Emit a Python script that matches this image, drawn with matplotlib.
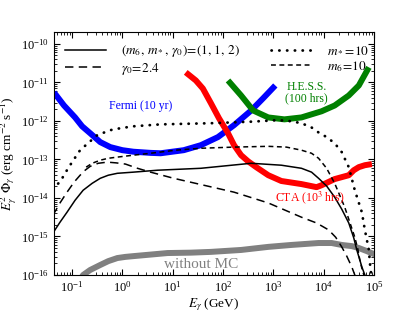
import numpy as np
import matplotlib.pyplot as plt
from matplotlib.ticker import NullFormatter

plt.rcParams['font.family'] = 'serif'
plt.rcParams['font.serif'] = ['Liberation Serif', 'DejaVu Serif']
plt.rcParams['mathtext.fontset'] = 'stix'

# log10(E/GeV) and log10(E^2 Phi / erg cm^-2 s^-1)
fermi_x = [-1.36, -1.16, -0.94, -0.8, -0.64, -0.44, -0.24, 0.0, 0.22, 0.56, 0.76, 1.22,
           1.56, 1.9, 2.22, 2.56, 2.8, 3.04]
fermi_y = [-11.26, -11.6, -11.91, -12.14, -12.32, -12.55, -12.68, -12.76, -12.80, -12.83,
           -12.84, -12.76, -12.63, -12.42, -12.11, -11.73, -11.41, -11.08]

cta_x = [1.26, 1.46, 1.6, 1.76, 1.92, 2.1, 2.22, 2.36, 2.5, 2.66, 2.9, 3.16, 3.56, 3.86,
         3.96, 4.22, 4.5, 4.6, 4.7, 4.82, 4.96]
cta_y = [-10.74, -10.95, -11.16, -11.54, -11.93, -12.32, -12.63, -12.89, -13.05, -13.20,
         -13.41, -13.56, -13.64, -13.72, -13.67, -13.51, -13.41, -13.28, -13.20, -13.15,
         -13.12]

hess_x = [2.1, 2.36, 2.6, 2.9, 3.22, 3.56, 3.96, 4.22, 4.5, 4.7, 4.9]
hess_y = [-10.95, -11.34, -11.73, -11.91, -11.96, -11.91, -11.75, -11.60, -11.34, -11.08,
          -10.61]

base_x = [-1.38, -1.24, -1.1, -0.94, -0.78, -0.6, -0.44, -0.28, -0.1, 0.22, 0.7, 1.56,
          2.56, 3.16, 3.56, 3.76, 3.9, 4.06, 4.22, 4.36, 4.5, 4.6, 4.66, 4.72, 4.76, 4.82,
          4.88]
base_y = [-14.91, -14.63, -14.37, -14.06, -13.80, -13.62, -13.49, -13.41, -13.36, -13.33,
          -13.28, -13.23, -13.10, -13.15, -13.23, -13.33, -13.49, -13.69, -13.98, -14.29,
          -14.65, -15.04, -15.35, -15.61, -15.79, -16.0, -16.26]

g24_x = [-1.38, -1.24, -1.1, -0.96, -0.84, -0.74, -0.64, -0.48, -0.3, -0.12, 0.06, 0.3,
         0.56, 1.02, 1.62, 2.22, 2.9, 3.56, 3.86, 4.1, 4.24, 4.36, 4.46, 4.56, 4.62, 4.66]
g24_y = [-14.45, -14.13, -13.85, -13.59, -13.41, -13.28, -13.18, -13.10, -13.07, -13.09,
         -13.12, -13.23, -13.33, -13.49, -13.67, -13.85, -14.13, -14.50, -14.65, -14.83,
         -15.02, -15.27, -15.51, -15.79, -16.0, -16.16]

m6_x = [-0.72, -0.6, -0.44, -0.28, -0.1, 0.22, 0.56, 1.06, 1.56, 2.22, 2.9, 3.26, 3.56,
        3.76, 3.9, 4.06, 4.22, 4.32, 4.42, 4.52, 4.62, 4.68, 4.72, 4.76, 4.8, 4.84]
m6_y = [-13.20, -13.10, -13.02, -12.97, -12.94, -12.89, -12.84, -12.76, -12.71, -12.68,
        -12.66, -12.68, -12.76, -12.84, -12.97, -13.23, -13.62, -13.93, -14.24, -14.63,
        -15.02, -15.33, -15.61, -15.82, -16.0, -16.21]

ms_x = [-1.4, -1.24, -1.14, -1.0, -0.84, -0.64, -0.5, -0.24, -0.04, 0.22, 0.76, 1.76,
        2.56, 3.1, 3.36, 3.56, 3.76, 3.9, 4.06, 4.22, 4.36, 4.5, 4.62, 4.76, 4.82, 4.9,
        4.92, 4.96]
ms_y = [-13.75, -13.59, -13.36, -13.07, -12.76, -12.53, -12.37, -12.24, -12.19, -12.14,
        -12.09, -12.06, -12.02, -11.98, -12.01, -12.06, -12.17, -12.30, -12.42, -12.58,
        -12.81, -13.20, -13.80, -14.37, -14.83, -15.35, -15.69, -16.13]

nomc_x = [-0.84, -0.78, -0.64, -0.44, -0.28, -0.1, 0.06, 0.22, 0.56, 0.9, 1.36, 1.76,
          2.36, 2.9, 3.36, 3.9, 4.16, 4.36, 4.56, 4.7, 4.86, 5.04]
nomc_y = [-16.13, -16.0, -15.87, -15.74, -15.64, -15.56, -15.53, -15.51, -15.47, -15.43,
          -15.42, -15.40, -15.35, -15.27, -15.22, -15.17, -15.17, -15.22, -15.25, -15.30,
          -15.38, -15.48]

xticks = [1e-1, 1e0, 1e1, 1e2, 1e3, 1e4, 1e5]
yticks = [1e-16, 1e-15, 1e-14, 1e-13, 1e-12, 1e-11, 1e-10]

def p(a):
    return 10.0 ** np.array(a)

fig = plt.figure(figsize=(4.15, 3.12), dpi=100)
ax = fig.add_axes([0.130, 0.1186, 0.771, 0.778])

thick = dict(lw=4.3, solid_capstyle='butt', solid_joinstyle='round')
ax.plot(p(fermi_x), p(fermi_y), color='blue', **thick)
ax.plot(p(cta_x), p(cta_y), color='red', **thick)
ax.plot(p(hess_x), p(hess_y), color='green', **thick)
ax.plot(p(nomc_x), p(nomc_y), color='gray', **thick)

l1, = ax.plot(p(base_x), p(base_y), 'k-', lw=1.1)
l2, = ax.plot(p(g24_x), p(g24_y), 'k', lw=1.1, dashes=(5.5, 3.5))
l3, = ax.plot(p(ms_x), p(ms_y), 'k', lw=2.0, linestyle=(0, (0.1, 2.7)),
              dash_capstyle='round')
l4, = ax.plot(p(m6_x), p(m6_y), 'k', lw=1.1, dashes=(3.2, 2.3))

ax.legend([l1, l2, l3, l4],
          [r'$(m_6,\,m_*,\,\gamma_0)\!=\!(1,\,1,\,2)$', r'$\gamma_0\!=\!2.4$',
           r'$m_*\!=\!10$', r'$m_6\!=\!10$'],
          ncol=2, frameon=False, fontsize=9.5, loc='upper left',
          bbox_to_anchor=(0.0, 1.0), handlelength=3.1, columnspacing=2.4,
          handletextpad=1.1, borderaxespad=0.45, labelspacing=0.12)

ax.text(10**0.36, 10**-11.62, 'Fermi (10 yr)', color='blue', fontsize=8.5,
        ha='center', va='center')
ax.text(10**3.66, 10**-11.26, 'H.E.S.S.\n(100 hrs)', color='green', fontsize=8.5,
        ha='center', va='center', linespacing=0.95)
ax.text(10**3.72, 10**-14.0, r'CTA (10$^3$ hrs)', color='red', fontsize=8.5,
        ha='center', va='center')
ax.text(10**1.56, 10**-15.74, 'without MC', color='gray', fontsize=11,
        ha='center', va='center')

ax.set_xscale('log')
ax.set_yscale('log')
ax.set_xticks(xticks)
ax.set_yticks(yticks)
ax.set_xlim(10**-1.36, 1e5)
ax.set_ylim(1e-16, 2e-10)
ax.xaxis.set_minor_formatter(NullFormatter())
ax.yaxis.set_minor_formatter(NullFormatter())
ax.tick_params(which='both', direction='in', top=True, right=True, labelsize=9)
ax.tick_params(which='major', length=4)
ax.tick_params(which='minor', length=2)
ax.set_xlabel(r'$E_\gamma$ (GeV)', fontsize=9.5, labelpad=1)
ax.set_ylabel(r'$E_\gamma^2\ \Phi_\gamma$ (erg cm$^{-2}$ s$^{-1}$)', fontsize=9.5,
              labelpad=1)

fig.savefig('out.png', dpi=100)
